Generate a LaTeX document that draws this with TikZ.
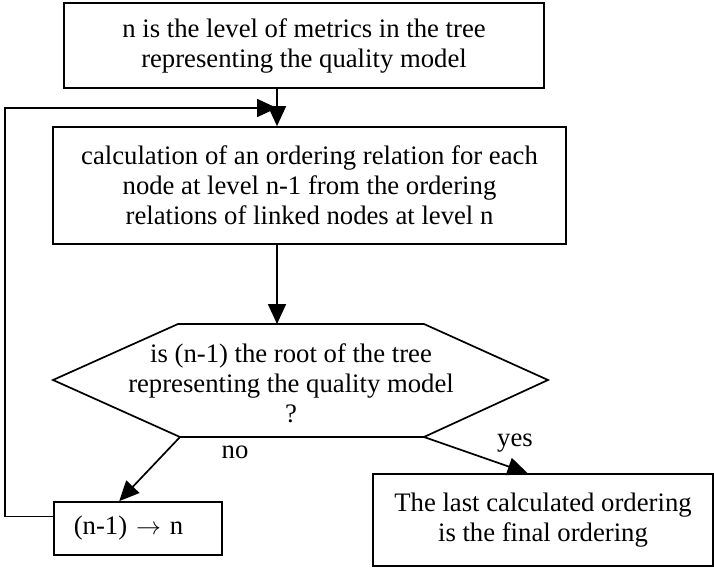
\documentclass[tikz,border=0pt]{standalone}
\usepackage{fontspec}
\setmainfont{Liberation Serif}
\usetikzlibrary{arrows.meta,calc}
\begin{document}
\begin{tikzpicture}[x=1pt,y=-1pt,
  box/.style={draw,line width=1.7pt,inner sep=0pt,align=center,font=\fontsize{26.7}{30}\selectfont},
  lbl/.style={inner sep=0pt,font=\fontsize{26.7}{30}\selectfont},
  conn/.style={line width=1.7pt,-{Triangle[length=20pt,width=18pt]}},
  outline/.style={line width=1.7pt,line join=miter}]
\useasboundingbox (0,0) rectangle (714,567);
\node[box,minimum width=480pt,minimum height=85pt] (start) at (304,45.5)
  {n is the level of metrics in the tree\\representing the quality model};
\node[box,minimum width=513pt,minimum height=117pt] (calcb) at (309.5,185.5)
  {calculation of an ordering relation for each\\node at level n-1 from the ordering\\relations of linked nodes at level n};
% decision hexagon
\coordinate (hl) at (53,380);
\coordinate (htl) at (178,324);
\coordinate (htr) at (424,324);
\coordinate (hr) at (548,380);
\coordinate (hbr) at (424,437);
\coordinate (hbl) at (180,437);
\coordinate (htop) at (277,324);
\draw[outline] (hl) -- (htl) -- (htr) -- (hr) -- (hbr) -- (hbl) -- cycle;
\node[lbl,align=center] (q) at (291,383)
  {is (n-1) the root of the tree\\representing the quality model\\?};
\node[box,anchor=west,minimum height=53pt,text width=128pt,inner xsep=20pt,align=left] (nb) at (53,528.5)
  {(n-1) $\rightarrow$ n};
\node[box,minimum width=340pt,minimum height=92pt] (fin) at (543,520)
  {The last calculated ordering\\is the final ordering};
\coordinate (j) at (277,108);
% connectors
\draw[conn] (start.south -| j) -- (calcb.north -| j);
\draw[conn] (calcb.south -| j) -- (htop);
\draw[conn] (hbl) -- ($(nb.north west)!0.39!(nb.north east)$);
\draw[conn] (hbr) -- ($(fin.north west)!0.455!(fin.north east)$);
\draw[conn] ($(nb.north west)!0.28!(nb.south west)$) -- ++(-48,0) |- (j);
% labels
\node[lbl] (no) at (235,452) {no};
\node[lbl] (yes) at (515,443) {yes};
\end{tikzpicture}
\end{document}
